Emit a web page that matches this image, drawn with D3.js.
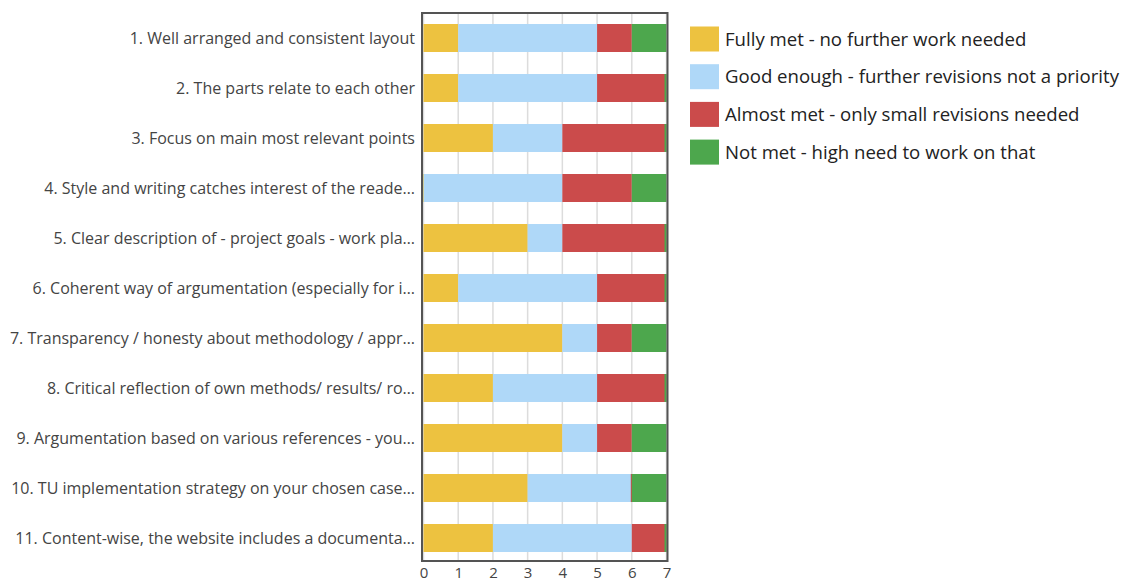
<!DOCTYPE html>
<html><head><meta charset="utf-8">
<script src="https://cdn.jsdelivr.net/npm/d3@7"></script>
<style>body{margin:0;background:#fff}svg{display:block;font-family:"Open Sans",sans-serif}</style>
</head><body><svg id="c" width="1124" height="585"></svg>
<script>
const categories = [
 "1. Well arranged and consistent layout",
 "2. The parts relate to each other",
 "3. Focus on main most relevant points",
 "4. Style and writing catches interest of the reade…",
 "5. Clear description of - project goals - work pla…",
 "6. Coherent way of argumentation (especially for i…",
 "7. Transparency / honesty about methodology / appr…",
 "8. Critical reflection of own methods/ results/ ro…",
 "9. Argumentation based on various references - you…",
 "10. TU implementation strategy on your chosen case…",
 "11. Content-wise, the website includes a documenta…"
];
const seriesNames = [
 "Fully met - no further work needed",
 "Good enough - further revisions not a priority",
 "Almost met - only small revisions needed",
 "Not met - high need to work on that"
];
const fullyMet   = [1,1,2,0,3,1,4,2,4,3,2];
const goodEnough = [4,4,2,4,1,4,1,3,1,3,4];
const almostMet  = [1,2,3,2,3,2,1,2,1,0,1];
const notMet     = [1,0,0,1,0,0,1,0,1,1,0];
const colors = ["#edc240","#afd8f8","#cb4b4b","#4da74d"];
const xTicks = [0,1,2,3,4,5,6,7];

const series = [fullyMet, goodEnough, almostMet, notMet];
const rows = categories.map((c,i)=>{const o={cat:c}; seriesNames.forEach((s,j)=>o[s]=series[j][i]); return o;});
const stack = d3.stack().keys(seriesNames)(rows);

const svg = d3.select("#c");
const x = d3.scaleLinear().domain([0,7]).range([423.5,666.5]);
const y = d3.scaleBand().domain(categories).range([13,563]).paddingInner(0.44).paddingOuter(0.22);

// grid
svg.append("g").selectAll("line").data(xTicks).join("line")
  .attr("x1",d=>x(d)).attr("x2",d=>x(d)).attr("y1",13).attr("y2",561)
  .attr("stroke","#dcdcdc").attr("stroke-width",1.5);

// bars
stack.forEach((layer,j)=>{
  svg.append("g").attr("fill",colors[j]).selectAll("rect").data(layer).join("rect")
    .attr("x",d=> d[1]-d[0]===0 ? (d[0]>=7 ? x(d[0])-2 : x(d[0])-1) : x(d[0]))
    .attr("width",d=> d[1]-d[0]===0 ? 2 : x(d[1])-x(d[0]))
    .attr("y",d=>y(d.data.cat)).attr("height",y.bandwidth());
});

// frame
svg.append("rect").attr("x",422).attr("y",13).attr("width",245.5).attr("height",548)
  .attr("fill","none").attr("stroke","#545454").attr("stroke-width",2);

// y labels
svg.append("g").selectAll("text").data(categories).join("text")
  .attr("x",415).attr("y",d=>y(d)+y.bandwidth()/2).attr("dy","0.35em")
  .attr("text-anchor","end").attr("font-size",16).attr("fill","#444").text(d=>d);

// x axis labels
const xa = svg.append("g").attr("transform","translate(0,567)").call(d3.axisBottom(x).tickValues(xTicks).tickFormat(d3.format("d")).tickSize(0).tickPadding(0));
xa.select(".domain").remove();
xa.selectAll("text").attr("font-size",15).attr("fill","#444").attr("font-family","Open Sans, sans-serif");

// legend
const lg = svg.append("g").selectAll("g").data(seriesNames).join("g")
  .attr("transform",(d,i)=>`translate(690,${26.5+i*37.7})`);
lg.append("rect").attr("width",29).attr("height",25).attr("fill",(d,i)=>colors[i]);
lg.append("text").attr("x",35).attr("y",12.5).attr("dy","0.36em").attr("font-size",18.6).attr("fill","#222").text(d=>d);
</script></body></html>
